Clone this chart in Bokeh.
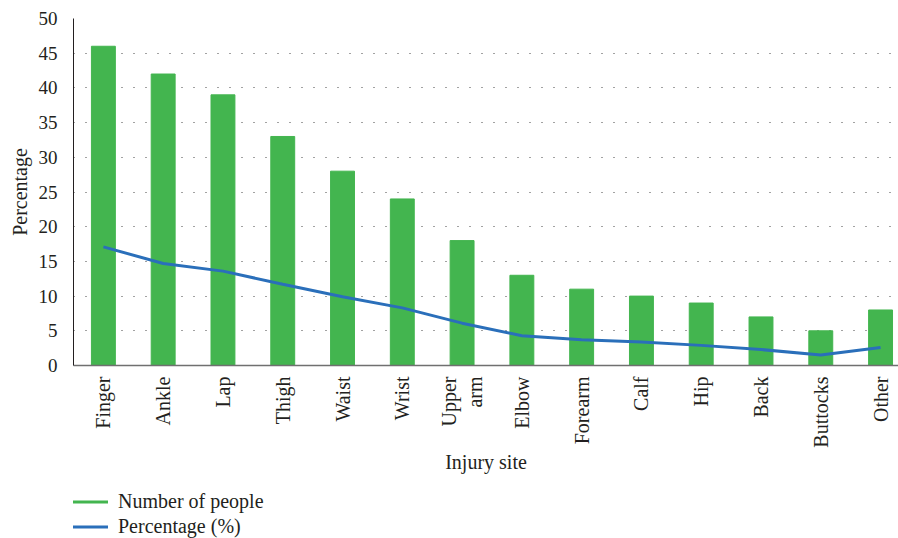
from bokeh.plotting import figure
from bokeh.models import Legend, LegendItem, FixedTicker, ColumnDataSource
from bokeh.layouts import column
from bokeh.embed import file_html
from bokeh.resources import INLINE
import math

sites = ["Finger", "Ankle", "Lap", "Thigh", "Waist", "Wrist", "Upper\narm", "Elbow",
         "Forearm", "Calf", "Hip", "Back", "Buttocks", "Other"]
people = [46, 42, 39, 33, 28, 24, 18, 13, 11, 10, 9, 7, 5, 8]
percentage = [17.1, 14.7, 13.6, 11.7, 9.9, 8.3, 6.1, 4.3, 3.7, 3.4, 2.9, 2.3, 1.5, 2.6]
y_ticks = [0, 5, 10, 15, 20, 25, 30, 35, 40, 45, 50]
legend_labels = ["Number of people", "Percentage (%)"]

GREEN = "#43b54f"
BLUE = "#2a6fba"
FONT = "Liberation Serif"
TXT = "#231f20"

idx = list(range(len(sites)))
src = ColumnDataSource(dict(x=idx, people=people, pct=percentage))

p = figure(width=898, height=482, x_range=(-0.5, 13.3), y_range=(0, 50),
           output_backend="svg", toolbar_location=None,
           min_border_left=73, min_border_right=0, min_border_top=18,
           min_border_bottom=117)
p.outline_line_color = None

p.vbar(x="x", top="people", width=0.4, color=GREEN, source=src)
p.line(x="x", y="pct", line_color=BLUE, line_width=3, source=src)

p.xaxis.ticker = FixedTicker(ticks=idx)
p.xaxis.major_label_overrides = {i: s for i, s in enumerate(sites)}
p.xaxis.major_label_orientation = math.pi / 2
p.xaxis.major_tick_line_color = None
p.xaxis.minor_tick_line_color = None
p.xaxis.axis_line_color = "#707070"
p.xaxis.axis_line_width = 1.5
p.xaxis.axis_label = "Injury site"
p.xaxis.major_label_standoff = 5
p.xaxis.axis_label_standoff = 0

p.yaxis.ticker = FixedTicker(ticks=y_ticks)
p.yaxis.major_tick_line_color = None
p.yaxis.minor_tick_line_color = None
p.yaxis.axis_line_color = TXT
p.yaxis.axis_label = "Percentage"
p.yaxis.major_label_standoff = 10

for ax in (p.xaxis, p.yaxis):
    ax.major_label_text_font = FONT
    ax.major_label_text_color = TXT
    ax.axis_label_text_font = FONT
    ax.axis_label_text_font_size = "20px"
    ax.axis_label_text_font_style = "normal"
    ax.axis_label_text_color = TXT
p.xaxis.major_label_text_font_size = "20px"
p.yaxis.major_label_text_font_size = "19px"

p.xgrid.grid_line_color = None
p.ygrid.grid_line_color = "#444444"
p.ygrid.grid_line_dash = "1 11"
p.ygrid.grid_line_width = 1.2

# legend figure below
lf = figure(width=898, height=56, output_backend="svg", toolbar_location=None,
            min_border=0, x_range=(0, 1), y_range=(0, 1))
lf.axis.visible = False
lf.grid.visible = False
lf.outline_line_color = None
g_proxy = lf.line(x=[idx[0], idx[1]], y=[float("nan"), float("nan")], line_color=GREEN, line_width=3)
b_proxy = lf.line(x=[idx[0], idx[1]], y=[float("nan"), float("nan")], line_color=BLUE, line_width=3)

legend = Legend(items=[LegendItem(label=legend_labels[0], renderers=[g_proxy]),
                       LegendItem(label=legend_labels[1], renderers=[b_proxy])],
                location=(-1, 0), orientation="vertical")
legend.label_text_font = FONT
legend.label_text_font_size = "20px"
legend.label_text_color = TXT
legend.border_line_color = None
legend.background_fill_alpha = 0
legend.glyph_width = 36
legend.glyph_height = 23
legend.label_height = 23
legend.label_standoff = 10
legend.spacing = 2
legend.padding = 0
legend.margin = 0
lf.add_layout(legend, "center")

layout = column(p, lf, spacing=0)
open("out.html", "w").write(file_html(layout, INLINE))
